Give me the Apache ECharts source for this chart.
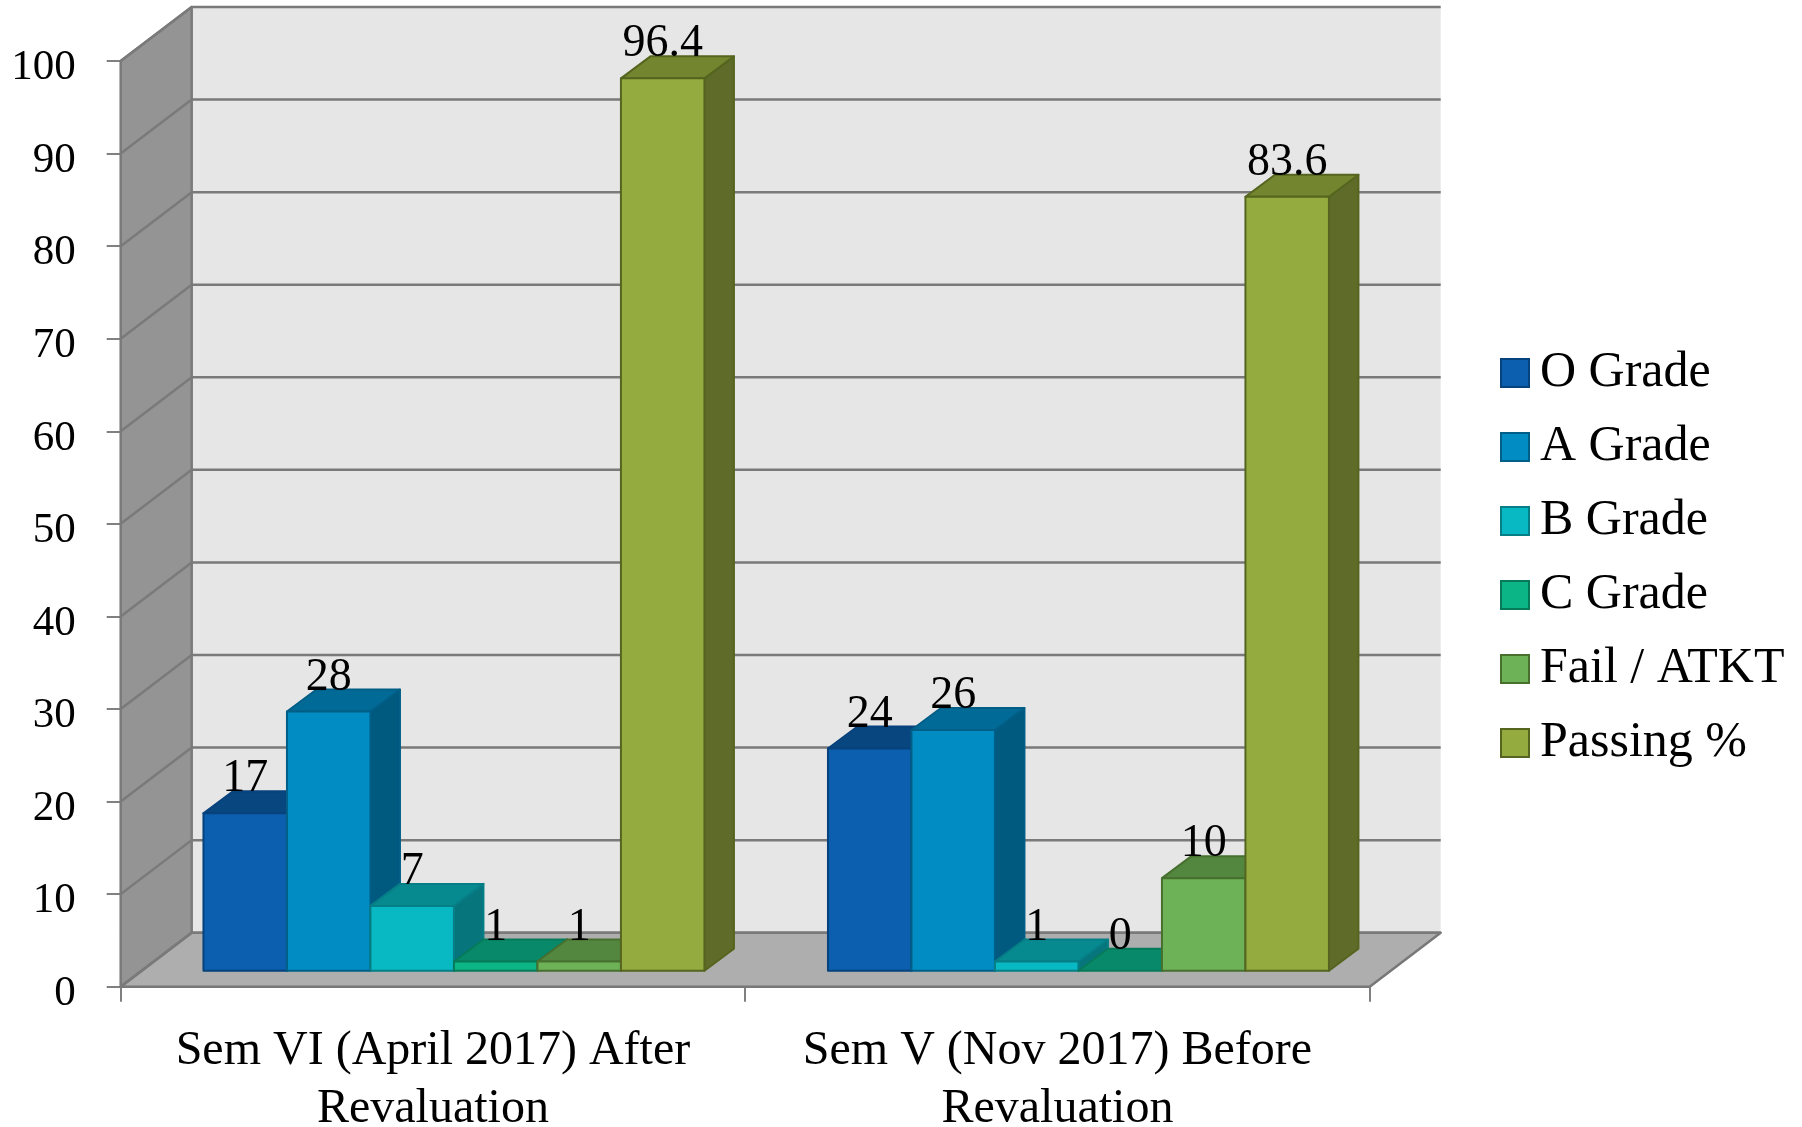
<!DOCTYPE html>
<html><head><meta charset="utf-8">
<style>html,body{margin:0;padding:0;background:#fff}#c{width:1802px;height:1127px}</style>
<script src="https://cdn.jsdelivr.net/npm/echarts@6/dist/echarts.min.js"></script>
</head><body><div id="c"></div>
<script>
const categories = ['Sem VI (April 2017) After\nRevaluation', 'Sem V (Nov 2017) Before\nRevaluation'];
const yTicks = [0,10,20,30,40,50,60,70,80,90,100];
const oGrade = [17, 24];
const aGrade = [28, 26];
const bGrade = [7, 1];
const cGrade = [1, 0];
const failAtkt = [1, 10];
const passing = [96.4, 83.6];
const seriesNames = ['O Grade','A Grade','B Grade','C Grade','Fail / ATKT','Passing %'];
const seriesValues = [oGrade, aGrade, bGrade, cGrade, failAtkt, passing];
const palette = [
  {front:'#0B5FAE', top:'#08467F', side:'#074071', edge:'#07427C'},
  {front:'#018CC4', top:'#016A96', side:'#005A80', edge:'#015E86'},
  {front:'#08B8C2', top:'#078990', side:'#06757C', edge:'#067E86'},
  {front:'#0BB585', top:'#08896A', side:'#077559', edge:'#077A5A'},
  {front:'#6EB257', top:'#538740', side:'#476F36', edge:'#47702F'},
  {front:'#93AB3F', top:'#73852F', side:'#5E6B29', edge:'#55651F'}
];
const FONT = '"Liberation Serif", serif';
const depthX = 71, depthY = 54;             // wall depth
const planeX = 21, planeY = 16;             // bar front plane inset
const barDX = 29.5, barDY = 22;             // bar depth
const barShare = 0.1337;                    // bar width / category band

const chart = echarts.init(document.getElementById('c'));

function poly(points, fill, stroke, lw, z2){
  return {type:'polygon', shape:{points}, z2:z2||0,
    style:{fill, stroke:stroke||null, lineWidth:lw||0, lineJoin:'round'}};
}
function renderWalls(params){
  const r = params.coordSys, L=r.x, R=r.x+r.width, T=r.y, B=r.y+r.height;
  return {type:'group', children:[
    poly([[L+depthX,T-depthY],[R+depthX,T-depthY],[R+depthX,B-depthY],[L+depthX,B-depthY]],'#E6E6E6'),
    poly([[L,T],[L+depthX,T-depthY],[L+depthX,B-depthY],[L,B]],'#949494','#7A7A7A',2.5),
    poly([[L,B],[L+depthX,B-depthY],[R+depthX,B-depthY],[R,B]],'#AEAEAE','#787878',2.5)
  ]};
}
function renderGrid(params, api){
  const r = params.coordSys, y = api.coord([0, api.value(0)])[1];
  const L=r.x, R=r.x+r.width;
  const stroke={stroke:'#7A7A7A', lineWidth:2.5, fill:null};
  return {type:'group', children:[
    {type:'polyline', z2:2, shape:{points:[[L,y],[L+depthX,y-depthY],[R+depthX,y-depthY]]}, style:stroke}
  ]};
}
function renderBar(si){
  return function(params, api){
    const cat = api.value(0), val = api.value(1);
    const c = palette[si];
    const p = api.coord([cat, val]), p0 = api.coord([cat, 0]);
    const w = api.size([1,0])[0] * barShare;
    const x0 = p[0] + planeX + (si-3)*w, x1 = x0 + w;
    const yT = p[1] - planeY, yB = p0[1] - planeY;
    const kids = [
      poly([[x1,yT],[x1+barDX,yT-barDY],[x1+barDX,yB-barDY],[x1,yB]], c.side, c.edge, 2),
      poly([[x0,yT],[x0+barDX,yT-barDY],[x1+barDX,yT-barDY],[x1,yT]], c.top, c.edge, 2)
    ];
    if (val > 0) kids.push(poly([[x0,yT],[x1,yT],[x1,yB],[x0,yB]], c.front, c.edge, 2));
    return {type:'group', children:kids};
  };
}
function renderLabel(si){
  return function(params, api){
    const cat = api.value(0), val = api.value(1);
    const p = api.coord([cat, val]);
    const w = api.size([1,0])[0] * barShare;
    return {type:'text', z2:100, style:{
      text:String(val), x:p[0]+planeX+(si-2.5)*w, y:p[1]-planeY-34,
      align:'center', verticalAlign:'middle', font:'46px '+FONT, fill:'#000'}};
  };
}
const series = [
  {type:'custom', silent:true, z:1, data:[[0]], renderItem:renderWalls, encode:{x:-1,y:-1}},
  {type:'custom', silent:true, z:2, data:yTicks.map(v=>[v]), renderItem:renderGrid, encode:{x:-1,y:0}}
];
seriesNames.forEach((name,si)=>{
  series.push({type:'custom', name, silent:true, z:3+si,
    itemStyle:{color:palette[si].front, borderColor:palette[si].edge, borderWidth:2},
    data:seriesValues[si].map((v,i)=>[i,v]), renderItem:renderBar(si), encode:{x:0,y:1}});
});
seriesNames.forEach((name,si)=>{
  series.push({type:'custom', silent:true, z:20,
    data:seriesValues[si].map((v,i)=>[i,v]), renderItem:renderLabel(si), encode:{x:0,y:1}});
});
chart.setOption({
  animation:false,
  backgroundColor:'#fff',
  legend:{orient:'vertical', left:1495, top:343, icon:'rect', itemWidth:28, itemHeight:28, itemGap:24, align:'left',
    data:seriesNames, selectedMode:false,
    textStyle:{fontFamily:FONT, fontSize:50, color:'#000', padding:[0,0,0,6], lineHeight:28, height:28}},
  grid:{left:120.7, top:61, width:1249, height:925.7, containLabel:false, outerBoundsMode:'none'},
  xAxis:{type:'category', data:categories, boundaryGap:true,
    axisLine:{show:false},
    axisTick:{show:true, length:15, alignWithLabel:false, lineStyle:{color:'#808080', width:2}},
    axisLabel:{fontFamily:FONT, fontSize:48, color:'#000', margin:35.5, lineHeight:58, interval:0, hideOverlap:false},
    splitLine:{show:false}},
  yAxis:{type:'value', min:0, max:100, interval:10,
    axisLine:{show:false},
    axisTick:{show:true, length:14, lineStyle:{color:'#808080', width:2}},
    axisLabel:{color:'#000', margin:45, formatter:'{n|{value}}',
      rich:{n:{fontFamily:FONT, fontSize:43, color:'#000', padding:[14,0,0,0]}}},
    splitLine:{show:false}},
  series
});
</script></body></html>
